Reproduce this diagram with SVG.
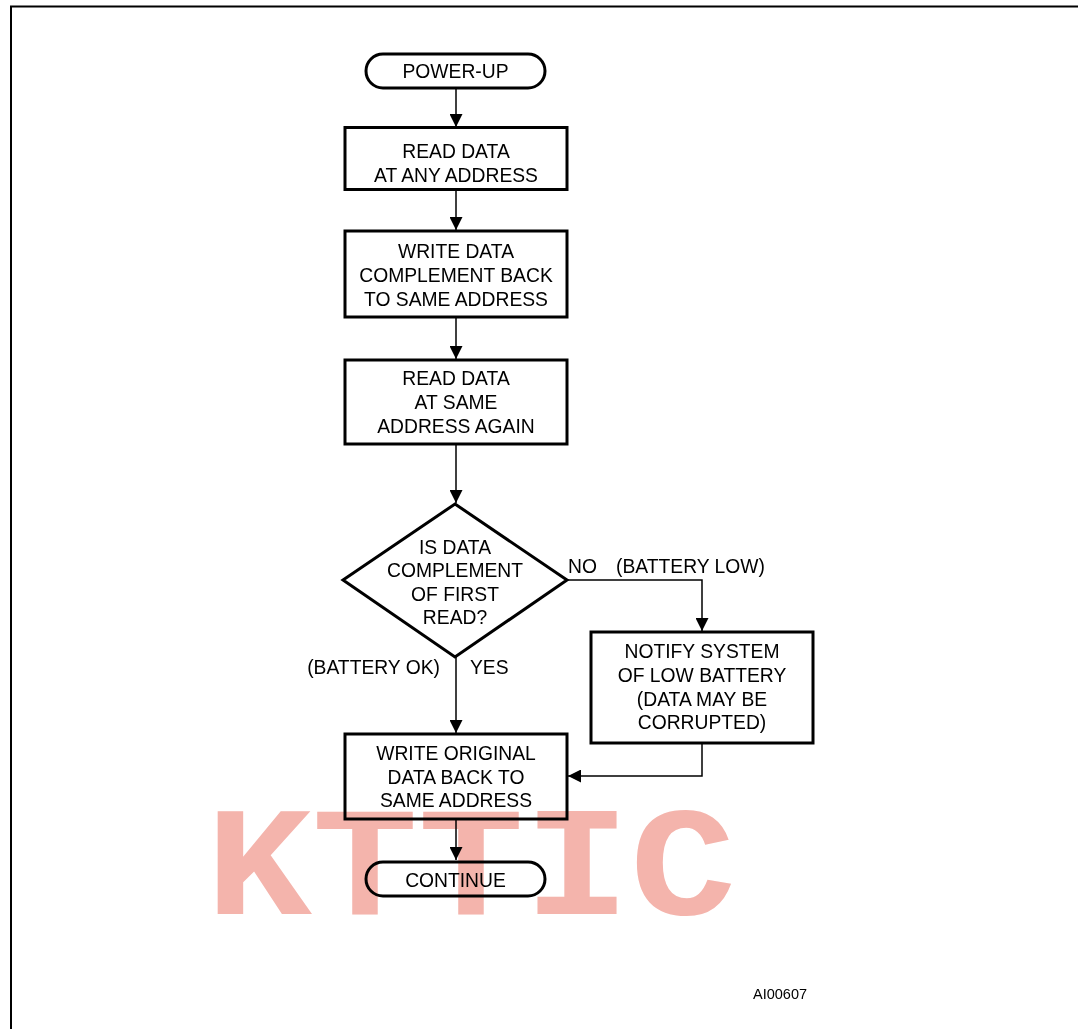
<svg xmlns="http://www.w3.org/2000/svg" width="1078" height="1029" viewBox="0 0 1078 1029">
<defs>
<style>
.box{fill:#fff;stroke:#000;stroke-width:3}
.ln{fill:none;stroke:#000;stroke-width:1.5}
.t{font-family:"Liberation Sans",Arial,sans-serif;font-size:19.3px;fill:#000;text-anchor:middle}
.l{font-family:"Liberation Sans",Arial,sans-serif;font-size:19.3px;fill:#000}
.wm{font-family:"Liberation Mono","Courier New",monospace;font-weight:bold;font-size:156px;fill:#F4B4AC;mix-blend-mode:multiply}
</style>
<marker id="ah" markerUnits="userSpaceOnUse" markerWidth="14" markerHeight="13" viewBox="0 0 14 13" refX="13" refY="6.5" orient="auto">
<path d="M0,0 L13,6.5 L0,13 Z" fill="#000"/>
</marker>
</defs>
<rect width="1078" height="1029" fill="#fff"/>
<path d="M11,1029 V6.5 H1078" fill="none" stroke="#000" stroke-width="2"/>

<g id="connectors">
<path class="ln" d="M456,88 V127" marker-end="url(#ah)"/>
<path class="ln" d="M456,190 V230" marker-end="url(#ah)"/>
<path class="ln" d="M456,317 V359" marker-end="url(#ah)"/>
<path class="ln" d="M456,444 V503" marker-end="url(#ah)"/>
<path class="ln" d="M567,580 H702 V631" marker-end="url(#ah)"/>
<path class="ln" d="M456,657 V733" marker-end="url(#ah)"/>
<path class="ln" d="M702,743 V776 H568" marker-end="url(#ah)"/>
<path class="ln" d="M456,819 V860" marker-end="url(#ah)"/>
</g>

<g id="power-up">
<rect class="box" x="366" y="54" width="179" height="34" rx="17"/>
<text class="t" x="455.5" y="78">POWER-UP</text>
</g>
<g id="read-any">
<rect class="box" x="345" y="127.5" width="222" height="62"/>
<text class="t" x="456" y="158">READ DATA</text>
<text class="t" x="456" y="182">AT ANY ADDRESS</text>
</g>
<g id="write-complement">
<rect class="box" x="345" y="231" width="222" height="86"/>
<text class="t" x="456" y="258">WRITE DATA</text>
<text class="t" x="456" y="282">COMPLEMENT BACK</text>
<text class="t" x="456" y="306">TO SAME ADDRESS</text>
</g>
<g id="read-same">
<rect class="box" x="345" y="360" width="222" height="84"/>
<text class="t" x="456" y="385">READ DATA</text>
<text class="t" x="456" y="409">AT SAME</text>
<text class="t" x="456" y="433">ADDRESS AGAIN</text>
</g>
<g id="decision">
<path class="box" d="M455,504 L567,580 L455,657 L343,580 Z"/>
<text class="t" x="455" y="554">IS DATA</text>
<text class="t" x="455" y="577">COMPLEMENT</text>
<text class="t" x="455" y="601">OF FIRST</text>
<text class="t" x="455" y="624">READ?</text>
</g>
<g id="labels">
<text class="l" x="568" y="573">NO</text>
<text class="l" x="616" y="573">(BATTERY LOW)</text>
<text class="l" x="440" y="674" text-anchor="end">(BATTERY OK)</text>
<text class="l" x="470" y="674">YES</text>
</g>
<g id="notify">
<rect class="box" x="591" y="632" width="222" height="111"/>
<text class="t" x="702" y="658">NOTIFY SYSTEM</text>
<text class="t" x="702" y="682">OF LOW BATTERY</text>
<text class="t" x="702" y="706">(DATA MAY BE</text>
<text class="t" x="702" y="729">CORRUPTED)</text>
</g>
<g id="write-original">
<rect class="box" x="345" y="734" width="222" height="85"/>
<text class="t" x="456" y="760">WRITE ORIGINAL</text>
<text class="t" x="456" y="784">DATA BACK TO</text>
<text class="t" x="456" y="807">SAME ADDRESS</text>
</g>
<g id="continue">
<rect class="box" x="366" y="862" width="179" height="34" rx="17"/>
<text class="t" x="455.5" y="887">CONTINUE</text>
</g>
<text class="l" x="753" y="999" style="font-size:14.5px">AI00607</text>
<text class="wm" x="206" y="914" textLength="530" lengthAdjust="spacingAndGlyphs">KTTIC</text>
</svg>
